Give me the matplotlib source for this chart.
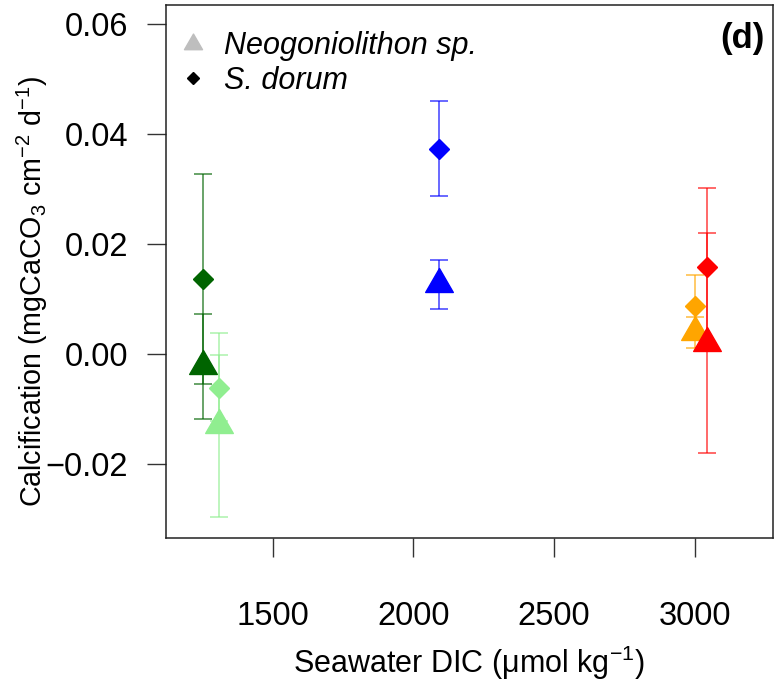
import numpy as np
import matplotlib
matplotlib.use('Agg')
import matplotlib.pyplot as plt
from matplotlib.path import Path
from matplotlib.lines import Line2D

plt.rcParams['font.family'] = ['Liberation Sans', 'DejaVu Sans']
plt.rcParams['mathtext.fontset'] = 'custom'
plt.rcParams['mathtext.rm'] = 'Liberation Sans'
plt.rcParams['mathtext.it'] = 'Liberation Sans:italic'
plt.rcParams['mathtext.bf'] = 'Liberation Sans:bold'

# treatments (drawing order)
colors = ['#006400', '#90EE90', '#0000FF', '#FFA500', '#FF0000']

# Neogoniolithon sp. (triangles)
neo_dic = [1253, 1308, 2092, 3001, 3044]
neo_calc = [-0.0022, -0.0129, 0.0127, 0.0040, 0.0021]
neo_err = [0.0096, 0.0167, 0.0045, 0.0028, 0.0200]

# S. dorum (diamonds)
sd_dic = [1253, 1308, 2092, 3001, 3044]
sd_calc = [0.0137, -0.0061, 0.0374, 0.0088, 0.0159]
sd_err = [0.0191, 0.0060, 0.0087, 0.0056, 0.0143]

xticks = [1500, 2000, 2500, 3000]
yticks = [-0.02, 0.00, 0.02, 0.04, 0.06]

# R-style pch 17 triangle (point sits below the box centre)
tri = Path([(0, 1), (-0.866, -0.5), (0.866, -0.5), (0, 1)],
           [Path.MOVETO, Path.LINETO, Path.LINETO, Path.CLOSEPOLY])

fig = plt.figure(figsize=(7.82, 6.84), dpi=100)
ax = fig.add_axes([0.2119, 0.2135, 0.7766, 0.7792])

for i, c in enumerate(colors):
    ax.errorbar(sd_dic[i], sd_calc[i], yerr=sd_err[i], fmt='none', ecolor=c,
                alpha=0.75, elinewidth=1.1, capsize=6.2, capthick=1.1)
    ax.plot(sd_dic[i], sd_calc[i], marker='D', ms=9.8, color=c, mec=c, ls='none')
    ax.errorbar(neo_dic[i], neo_calc[i], yerr=neo_err[i], fmt='none', ecolor=c,
                alpha=0.75, elinewidth=1.1, capsize=6.2, capthick=1.1)
    ax.plot(neo_dic[i], neo_calc[i], marker=tri, ms=23, color=c, mec=c, ls='none')

ax.set_xlim(1119.7, 3278.3)
ax.set_ylim(-0.0334, 0.0635)

ax.set_xticks(xticks)
ax.set_xticklabels([str(v) for v in xticks])
ax.set_yticks(yticks)
ax.set_yticklabels([('%.2f' % v).replace('-', '\u2212') for v in yticks])
ax.tick_params(axis='both', direction='out', length=13.5, width=1.0,
               labelsize=23.5, color='#333333')
ax.tick_params(axis='x', pad=32)
ax.tick_params(axis='y', pad=13.5)
for s in ax.spines.values():
    s.set_linewidth(1.1)
    s.set_color('#222222')

ax.set_xlabel('Seawater DIC (\u03bcmol kg$^{\u22121}$)', fontsize=22, labelpad=8)
ax.set_ylabel('Calcification (mgCaCO$_3$ cm$^{\u22122}$ d$^{\u22121}$)', fontsize=20.6)
ax.yaxis.set_label_coords(-0.19, 0.463)

ax.text(0.987, 0.938, '(d)', transform=ax.transAxes, ha='right', va='center',
        fontsize=25, fontweight='bold')

handles = [Line2D([], [], marker=tri, ms=15, color='#BEBEBE', ls='none'),
           Line2D([], [], marker='D', ms=6.5, color='black', ls='none')]
ax.legend(handles, ['Neogoniolithon sp.', 'S. dorum'], loc='upper left',
          bbox_to_anchor=(0.0, 0.956), frameon=False,
          prop={'style': 'italic', 'size': 22}, handlelength=1.6,
          handletextpad=0.2, labelspacing=0.135, borderpad=0.1,
          borderaxespad=0.0)

fig.savefig('out.png', dpi=100)
